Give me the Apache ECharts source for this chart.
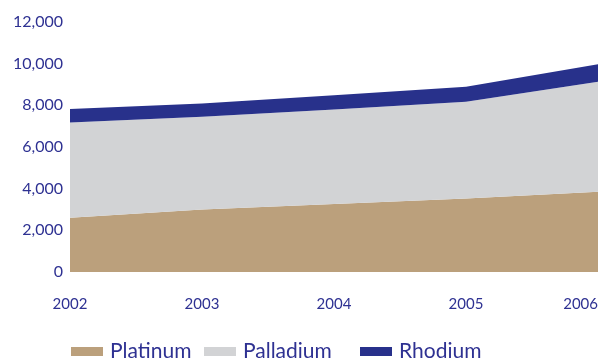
<!DOCTYPE html>
<html><head><meta charset="utf-8">
<script src="https://cdn.jsdelivr.net/npm/echarts@6/dist/echarts.min.js"></script>
<style>html,body{margin:0;padding:0;background:#fff}#c{width:601px;height:360px}</style>
</head><body><div id="c"></div>
<script>
const years = ['2002', '2003', '2004', '2005', '2006'];
const platinum = [2600, 3000, 3260, 3530, 3850];
const palladium = [4580, 4450, 4540, 4640, 5280];
const rhodium = [640, 640, 690, 720, 845];
const seriesNames = ['Platinum', 'Palladium', 'Rhodium'];
const colors = ['#BBA07C', '#D2D3D5', '#28318B'];
const textColor = '#2E3192';
const font = 'Lato';

const chart = echarts.init(document.getElementById('c'), null, {renderer: 'canvas'});
const mk = (name, data, i) => ({
  name, type: 'line', stack: 'total', data, symbol: 'none', smooth: false,
  lineStyle: {width: 0}, areaStyle: {color: colors[i], opacity: 1},
  itemStyle: {color: colors[i]}, emphasis: {disabled: true}
});
const legendLefts = [71, 204, 360];
chart.setOption({
  animation: false,
  grid: {left: 70, right: 3, top: 22, bottom: 88, containLabel: false},
  xAxis: {
    type: 'category', data: years, boundaryGap: false,
    axisLine: {show: false}, axisTick: {show: false}, splitLine: {show: false},
    axisLabel: {color: textColor, fontFamily: font, fontSize: 15, margin: 25, alignMaxLabel: 'right'}
  },
  yAxis: {
    type: 'value', min: 0, max: 12000, interval: 2000,
    axisLine: {show: false}, axisTick: {show: false}, splitLine: {show: false},
    axisLabel: {color: textColor, fontFamily: font, fontSize: 16, margin: 7,
      formatter: v => v.toLocaleString('en-US')}
  },
  legend: seriesNames.map((n, i) => ({
    top: 341, left: legendLefts[i], itemWidth: 32, itemHeight: 9, padding: 0,
    icon: 'rect',
    textStyle: {color: textColor, fontFamily: font, fontSize: 21, padding: [0, 0, 0, 2]},
    data: [n]
  })),
  series: [mk(seriesNames[0], platinum, 0), mk(seriesNames[1], palladium, 1), mk(seriesNames[2], rhodium, 2)]
});
</script></body></html>
